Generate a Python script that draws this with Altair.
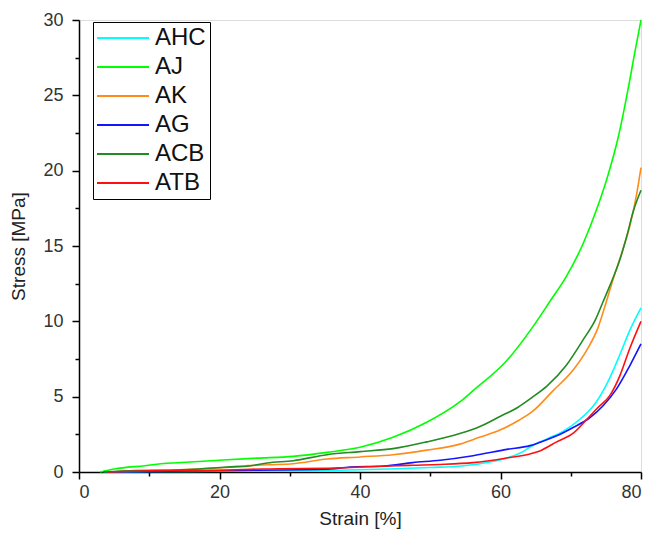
import altair as alt
import pandas as pd

series_names = ["AHC", "AJ", "AK", "AG", "ACB", "ATB"]
series_colors = ["#00FFFF", "#00FF00", "#FF8C1A", "#1414FF", "#228B22", "#FF1010"]

ahc_strain = [3.5, 10, 20, 30, 37, 44, 50, 54.5, 58.5, 61, 63.2, 64.2, 66.6, 68.9, 71.3, 73.4, 75.3, 77.0, 78.4, 80]
ahc_stress = [0, 0.03, 0.05, 0.08, 0.12, 0.2, 0.3, 0.4, 0.66, 0.95, 1.35, 1.65, 2.2, 2.7, 3.5, 4.5, 6.0, 7.8, 9.4, 10.9]

aj_strain = [3, 5, 9.4, 12.5, 15.8, 20.5, 25.3, 30.5, 35.3, 40, 44.7, 49.5, 54.2, 56.1, 60.9, 64.7, 67.0, 69.4, 71.8, 73.7, 75.3, 76.8, 77.7, 78.4, 78.9, 80]
aj_stress = [0, 0.2, 0.42, 0.58, 0.66, 0.8, 0.92, 1.04, 1.3, 1.64, 2.3, 3.3, 4.65, 5.4, 7.4, 9.7, 11.3, 13.0, 15.2, 17.45, 19.7, 22.3, 24.3, 26.0, 27.3, 30.0]

ak_strain = [4, 10, 17, 21, 24, 27, 30.5, 35.3, 40, 44.7, 49.5, 54.2, 57, 60, 62.5, 64.5, 67.5, 70.4, 72.3, 73.9, 75.0, 76.1, 77.3, 78.4, 79.4, 80]
ak_stress = [0, 0.08, 0.2, 0.3, 0.42, 0.48, 0.55, 0.86, 1.0, 1.15, 1.45, 1.85, 2.3, 2.8, 3.4, 4.0, 5.4, 6.8, 8.1, 9.6, 11.2, 12.9, 14.6, 16.3, 18.5, 20.2]

ag_strain = [3.5, 13, 25, 35, 38.6, 43.4, 47.5, 51.4, 56.1, 60.9, 64.2, 65.6, 68, 70.4, 72.7, 74.6, 76.5, 78.4, 80]
ag_stress = [0, 0.05, 0.12, 0.18, 0.33, 0.4, 0.62, 0.78, 1.08, 1.5, 1.75, 1.97, 2.4, 2.97, 3.6, 4.4, 5.5, 7.05, 8.5]

acb_strain = [3.5, 8, 13, 17, 21, 24.3, 26.8, 30.5, 35.3, 40, 44.7, 49.5, 54.2, 57, 60, 62.5, 64.5, 66.6, 69.4, 71.8, 73.5, 74.6, 75.6, 77.0, 78.0, 78.9, 80]
acb_stress = [0, 0.1, 0.12, 0.2, 0.33, 0.4, 0.6, 0.75, 1.15, 1.35, 1.55, 2.0, 2.55, 3.0, 3.7, 4.3, 4.95, 5.7, 7.1, 8.8, 10.1, 11.3, 12.4, 14.1, 15.7, 17.3, 18.7]

atb_strain = [4, 10, 20, 26, 38, 44, 47.5, 51.4, 56.1, 60.9, 64.2, 65.6, 68, 70.4, 72.3, 73.7, 75.6, 77, 78.4, 80]
atb_stress = [0, 0.08, 0.12, 0.2, 0.28, 0.4, 0.45, 0.5, 0.62, 0.93, 1.2, 1.4, 2.0, 2.6, 3.5, 4.2, 5.1, 6.4, 8.2, 10.0]

x_tick_values = [0, 10, 20, 30, 40, 50, 60, 70, 80]
y_tick_values = [0, 2.5, 5, 7.5, 10, 12.5, 15, 17.5, 20, 22.5, 25, 27.5, 30]

series_data = {
    "AHC": (ahc_strain, ahc_stress),
    "AJ": (aj_strain, aj_stress),
    "AK": (ak_strain, ak_stress),
    "AG": (ag_strain, ag_stress),
    "ACB": (acb_strain, acb_stress),
    "ATB": (atb_strain, atb_stress),
}

rows = []
for name in series_names:
    xs, ys = series_data[name]
    for i, (sx, sy) in enumerate(zip(xs, ys)):
        rows.append({"series": name, "strain": sx, "stress": sy, "idx": i})
df = pd.DataFrame(rows)

FONT = "Liberation Sans"

x_axis = alt.Axis(
    values=x_tick_values,
    labelExpr="datum.value % 20 === 0 ? datum.label : ''",
    tickSize={"condition": {"test": "datum.value % 20 === 0", "value": 7}, "value": 4},
    grid=False,
    domainColor="black",
    domainWidth=1.5,
    tickColor="black",
    tickWidth=1.5,
    labelFont=FONT,
    labelFontSize=18,
    labelColor="#333333",
    labelPadding=4,
    title="Strain [%]",
    titleFont=FONT,
    titleFontSize=19,
    titleFontWeight="normal",
    titleColor="#222222",
    titlePadding=8,
)

y_axis = alt.Axis(
    values=y_tick_values,
    labelExpr="datum.value % 5 === 0 ? datum.label : ''",
    tickSize={"condition": {"test": "datum.value % 5 === 0", "value": 7}, "value": 4},
    grid=False,
    domainColor="black",
    domainWidth=1.5,
    tickColor="black",
    tickWidth=1.5,
    labelFont=FONT,
    labelFontSize=18,
    labelColor="#333333",
    labelPadding=9,
    title="Stress [MPa]",
    titleFont=FONT,
    titleFontSize=19,
    titleFontWeight="normal",
    titleColor="#222222",
    titlePadding=14,
)

legend = alt.Legend(
    orient="none",
    legendX=14,
    legendY=2,
    title=None,
    symbolType="M-5.2,0L5.2,0",
    symbolSize=100,
    symbolStrokeWidth=2,
    symbolOffset=14,
    labelFont=FONT,
    labelFontSize=24,
    labelColor="#111111",
    labelOffset=20,
    strokeColor="black",
    fillColor="white",
    padding=4,
    rowPadding=5,
)

chart = (
    alt.Chart(df)
    .mark_line(strokeWidth=1.6, interpolate="monotone")
    .encode(
        x=alt.X("strain:Q", scale=alt.Scale(domain=[0, 80], nice=False, zero=False), axis=x_axis),
        y=alt.Y("stress:Q", scale=alt.Scale(domain=[0, 30], nice=False), axis=y_axis),
        color=alt.Color(
            "series:N",
            scale=alt.Scale(domain=series_names, range=series_colors),
            sort=series_names,
            legend=legend,
        ),
        order="idx:Q",
    )
    .properties(
        width=562,
        height=452,
        padding={"left": 79, "top": 20, "right": 12, "bottom": 63},
        autosize=alt.AutoSizeParams(type="none"),
    )
    .configure_view(stroke=None)
    .configure(background="white")
)

chart.save("out.html", embed_options={"renderer": "svg", "actions": False})
